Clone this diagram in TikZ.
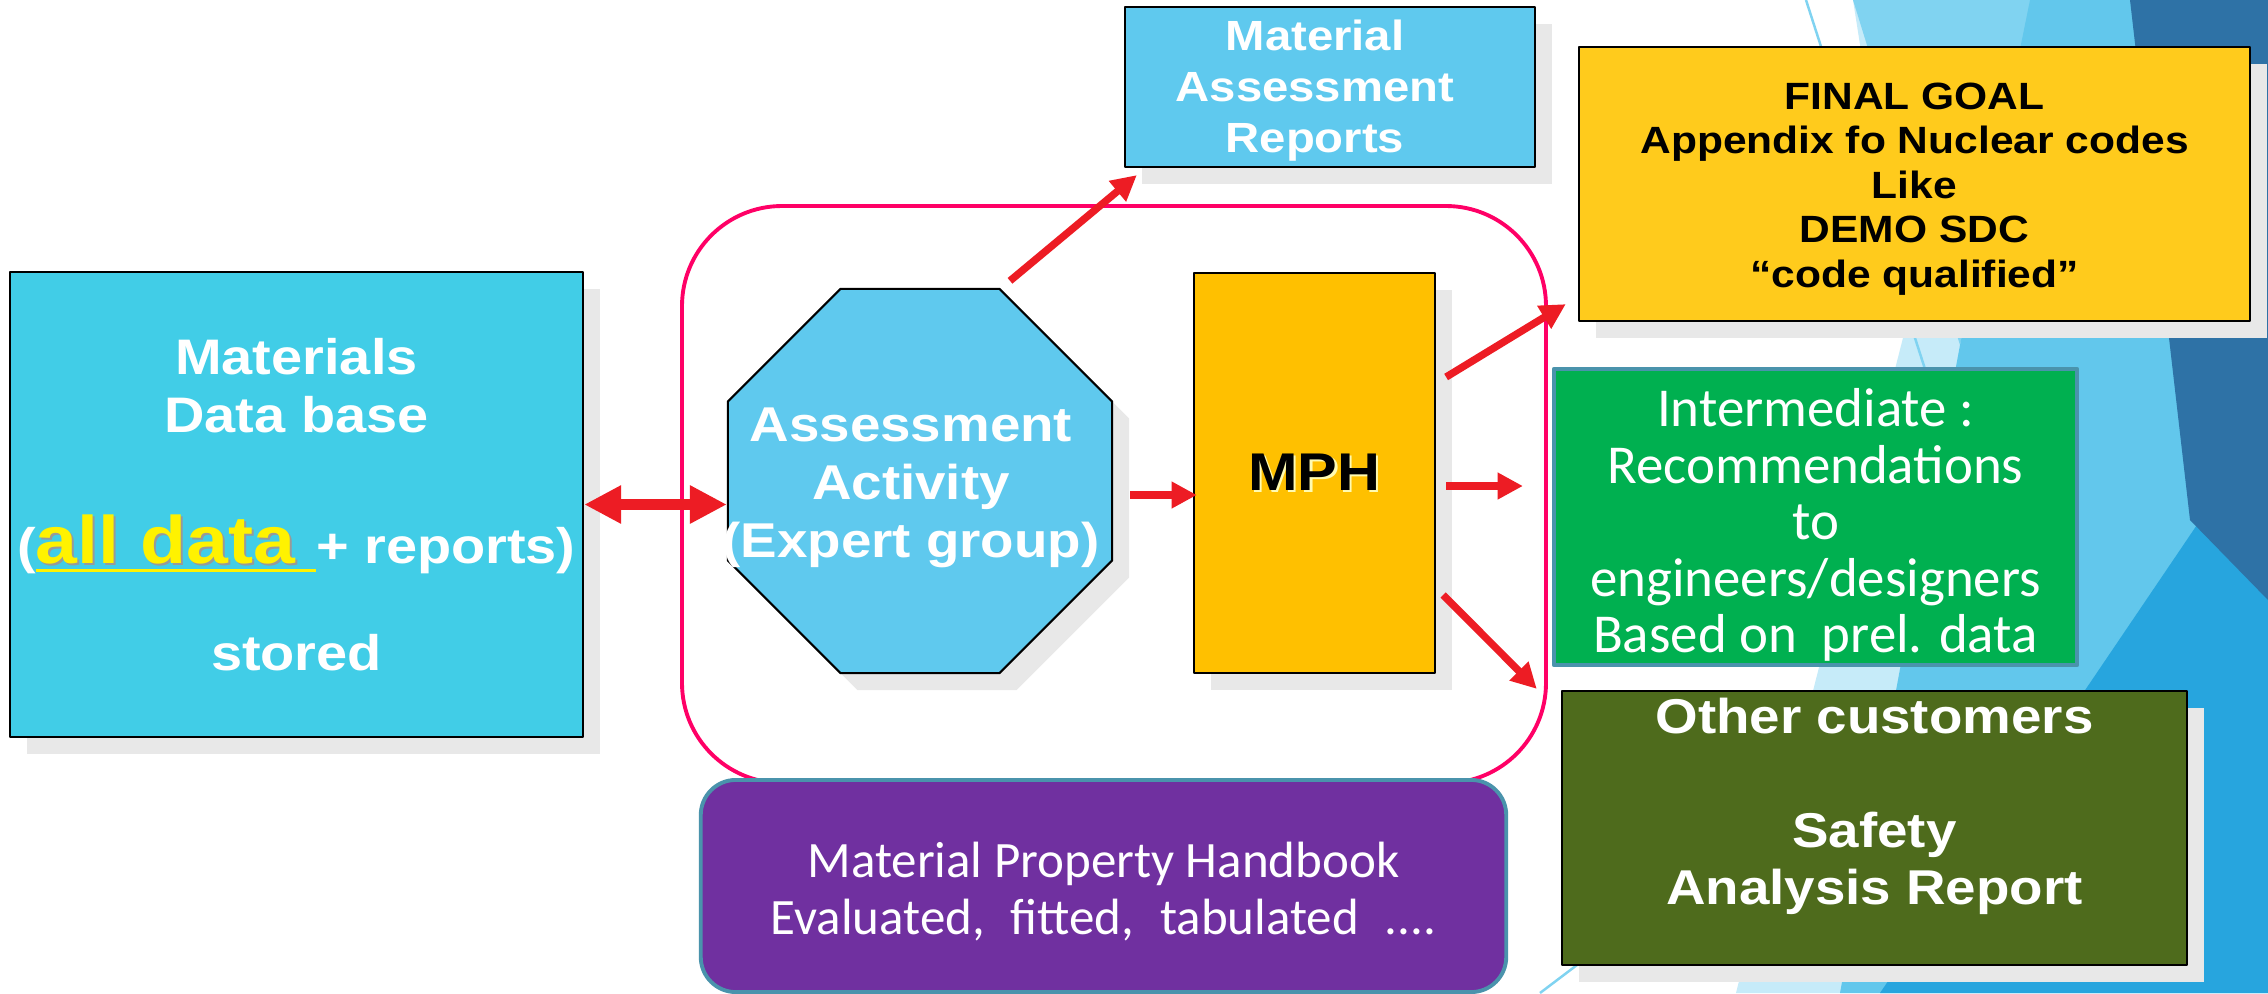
\documentclass[tikz,border=0pt]{standalone}
\usepackage{fontspec}
\setmainfont{Liberation Sans}[FakeStretch=1.12]
\newfontfamily\calfont{Carlito}
\usetikzlibrary{shapes.geometric,arrows.meta,calc,shadows}
\definecolor{dbblue}{HTML}{41CDE7}
\definecolor{skyblue}{HTML}{5FC9EE}
\definecolor{mphgold}{HTML}{FFC000}
\definecolor{goalgold}{HTML}{FFCB1C}
\definecolor{intgreen}{HTML}{00B050}
\definecolor{olive}{HTML}{4E6B1C}
\definecolor{handpurple}{HTML}{7030A0}
\definecolor{tealedge}{HTML}{4A93AC}
\definecolor{framepink}{HTML}{FF0066}
\definecolor{arrowred}{HTML}{ED1C24}
\definecolor{shadowgray}{HTML}{E8E8E8}
\definecolor{facetA}{HTML}{C6EBF9}
\definecolor{facetB}{HTML}{80D3F1}
\definecolor{facetC}{HTML}{62C7EC}
\definecolor{facetD}{HTML}{2E72A6}
\definecolor{facetE}{HTML}{27A5DE}
\newcommand{\setfs}[2]{\fontsize{#1}{#2}\selectfont}
\newcommand{\alldata}{{\setfs{19.1}{19}\sbox0{all data\ }\rlap{\color{black!40}\hspace{0.5pt}\raisebox{-0.5pt}{all data}}\color{yellow}\rlap{\rule[-2.4pt]{\wd0}{1pt}}all data\ }}
\begin{document}
\begin{tikzpicture}[line join=round,x=0.01cm,y=-0.01cm]
	\tikzset{box/.style={draw=black,line width=0.6pt,inner sep=0pt,align=center,drop shadow={shadow xshift=0.17cm,shadow yshift=-0.17cm,fill=shadowgray,opacity=1}},
		flat/.style={draw=tealedge,line width=1.1pt,inner sep=0pt},
		inside/.style={align=center,text=white},
		arr/.style={draw=arrowred,line width=2.1pt,-{Triangle[length=7.2pt,width=7.2pt]}},
		wide arr/.style={draw=arrowred,line width=3.1pt,{Triangle[length=10.5pt,width=10.2pt]}-{Triangle[length=10.5pt,width=10.2pt]}},
		facetline/.style={draw=facetB,line width=0.7pt}}
	\useasboundingbox (0,0) rectangle (2268,993);
	\fill[white] (0,0) rectangle (2268,993);
	\fill[facetA] (1853,0) -- (2268,0) -- (2268,993) -- (1736,993) -- (1905,330) -- cycle;
	\fill[facetB] (1853,0) -- (2035,0) -- (1960,345) -- cycle;
	\fill[facetC] (2030,0) -- (2268,0) -- (2268,993) -- (1840,993) -- (1960,345) -- cycle;
	\fill[facetE] (2268,420) -- (2268,993) -- (1880,993) -- cycle;
	\fill[facetD] (2130,0) -- (2268,0) -- (2268,600) -- (2190,520) -- cycle;
	\draw[facetline] (1806,0) -- (1935,400);
	\draw[facetline] (1540,993) -- (1610,940);

	\draw[framepink,line width=1.1pt,rounded corners=1cm] (682,206) rectangle (1546,783);

	\node[box,fill=dbblue,text=white,minimum width=5.73cm,minimum height=4.65cm,font=\bfseries\setfs{14.2}{16.5}] (db) at (296.5,504.5)
		{Materials\\Data base\\[20.8pt](\alldata+ reports)\\[13.7pt]stored};
	\node[box,regular polygon,regular polygon sides=8,minimum size=4.156cm,fill=skyblue,
		label={[inside,xshift=-0.09cm,yshift=-0.07cm,font=\bfseries\setfs{13.9}{16.4}]center:{Assessment\\Activity\\(Expert group)}}] (act) at (920,481) {};
	\node[box,fill=mphgold,minimum width=2.41cm,minimum height=4cm,font=\bfseries\setfs{15.1}{16}] (mph) at (1314.5,473)
		{\rlap{\color{yellow!30}\hspace{0.6pt}\raisebox{-0.6pt}{MPH}}MPH};
	\node[box,fill=skyblue,minimum width=4.1cm,minimum height=1.6cm,
		label={[inside,xshift=-0.15cm,yshift=-0.04cm,font=\bfseries\setfs{12}{14.5}]center:{Material\\Assessment\\Reports}}] (reports) at (1330,87) {};
	\node[box,fill=goalgold,minimum width=6.71cm,minimum height=2.74cm,
		label={[align=center,yshift=-0.05cm,font=\bfseries\setfs{10.8}{12.7}]center:{FINAL GOAL\\Appendix fo Nuclear codes\\Like\\DEMO SDC\\“code qualified”}}] (goal) at (1914.5,184) {};
	\node[flat,fill=intgreen,minimum width=5.23cm,minimum height=2.96cm,
		label={[inside,yshift=-0.08cm,font=\calfont\setfs{15.6}{16.1}]center:{Intermediate :\\Recommendations\\to\\engineers/designers\\Based on\ \ prel. data}}] (inter) at (1815.5,517) {};
	\node[box,fill=olive,text=white,minimum width=6.25cm,minimum height=2.74cm,text depth=0.54cm,align=center,font=\bfseries\setfs{13.9}{16.2}] (other) at (1874.5,828)
		{Other customers\\[16.2pt]Safety\\Analysis Report};
	\node[flat,fill=handpurple,rounded corners=0.35cm,minimum width=8.05cm,minimum height=2.12cm,
		label={[inside,yshift=-0.06cm,font=\calfont\setfs{14.5}{16.2}]center:{Material Property Handbook\\Evaluated,\hspace{0.28em} fitted,\hspace{0.28em} tabulated\hspace{0.28em} ....}}] (book) at (1103.5,886) {};

	\draw[wide arr] (db.east) -- (db.east -| act.west);
	\draw[arr] ($(act.east)+(17,14)$) -- ($(mph.west)+(4,22)$);
	\draw[arr] ($(act.north)+(90,-7)$) -- ($(reports.south west)+(13,7)$);
	\draw[arr] ($(mph.east)+(10,-96)$) -- ($(goal.south west)+(-12,-18)$);
	\draw[arr] ($(mph.east)+(10,13)$) -- ($(inter.west)+(-29,-31)$);
	\draw[arr] ($(mph.east)+(7,122)$) -- ($(other.north west)+(-24,-1)$);
\end{tikzpicture}
\end{document}
